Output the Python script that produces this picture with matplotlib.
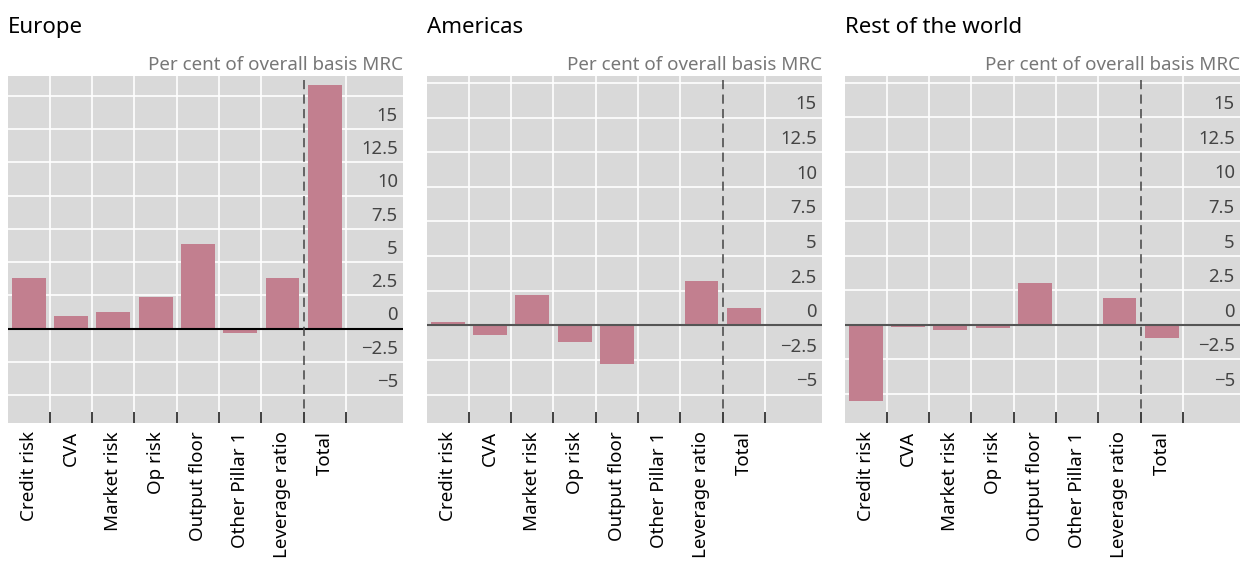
import matplotlib
matplotlib.use('Agg')
import matplotlib.pyplot as plt
import numpy as np

plt.rcParams['font.family'] = ['Noto Sans', 'DejaVu Sans']

# Данные по регионам, проценты от базового MRC
categories = ['Credit risk', 'CVA', 'Market risk', 'Op risk', 'Output floor',
              'Other Pillar 1', 'Leverage ratio', 'Total']
europe = [3.8, 0.95, 1.25, 2.4, 6.35, -0.35, 3.8, 18.35]
americas = [0.25, -0.7, 2.2, -1.2, -2.8, 0.05, 3.2, 1.25]
rest_of_world = [-5.5, -0.12, -0.35, -0.2, 3.05, 0.03, 1.95, -0.92]

panels = [('Europe', europe, (-7.1, 19.0), 'black'),
          ('Americas', americas, (-7.05, 18.0), '#555555'),
          ('Rest of the world', rest_of_world, (-7.1, 18.0), '#555555')]
lefts = [8, 427, 845]

yticks = np.arange(-7.5, 20, 2.5)
bar_color = '#c27f8f'

W, H = 1244, 561
AX_H = 347
fig = plt.figure(figsize=(W / 100, H / 100), dpi=100)

for (name, vals, ylim, zero_col), left in zip(panels, lefts):
    ax = fig.add_axes([left / W, (H - 423) / H, 395 / W, AX_H / H])
    ax.set_facecolor('#d9d9d9')
    x = np.arange(len(categories))
    ax.bar(x, vals, width=0.8, color=bar_color, zorder=2)
    ax.set_xlim(-0.49, 8.85)
    ax.set_ylim(*ylim)

    # сетка
    for b in np.arange(0.5, 8, 1.0):
        if b != 6.5:
            ax.axvline(b, color='white', lw=1.2, zorder=1)
    for t in yticks:
        ax.axhline(t, color='white', lw=1.2, zorder=1)
    ax.axhline(0, color=zero_col, lw=1.5, zorder=3)
    ax.axvline(6.5, color='#444444', lw=1.1, dashes=(6, 3.5), zorder=3)

    for s in ax.spines.values():
        s.set_visible(False)

    ax.set_xticks(x)
    ax.set_xticklabels(categories, rotation=90, fontsize=13.5, color='black')
    ax.tick_params(axis='x', length=0, pad=6)
    ax.set_xticks(np.arange(0.5, 8, 1.0), minor=True)
    ax.tick_params(axis='x', which='minor', direction='in', length=8,
                   width=1.3, color='#333333')
    ax.set_yticks([])

    for t in yticks:
        if -5 <= t <= 15:
            lbl = f'{t:g}'.replace('-', '\u2212')
            ax.annotate(lbl, xy=(0.987, t), xycoords=('axes fraction', 'data'),
                        xytext=(0, 3), textcoords='offset points',
                        ha='right', va='bottom', fontsize=13.3, color='#444444')

    ax.text(0.0, 1.0 + 43 / AX_H, name, transform=ax.transAxes,
            ha='left', va='baseline', fontsize=16, color='black')
    ax.text(1.0, 1.0 + 6 / AX_H, 'Per cent of overall basis MRC',
            transform=ax.transAxes, ha='right', va='baseline',
            fontsize=13.5, color='#777777')

fig.savefig('out.png', dpi=100)
